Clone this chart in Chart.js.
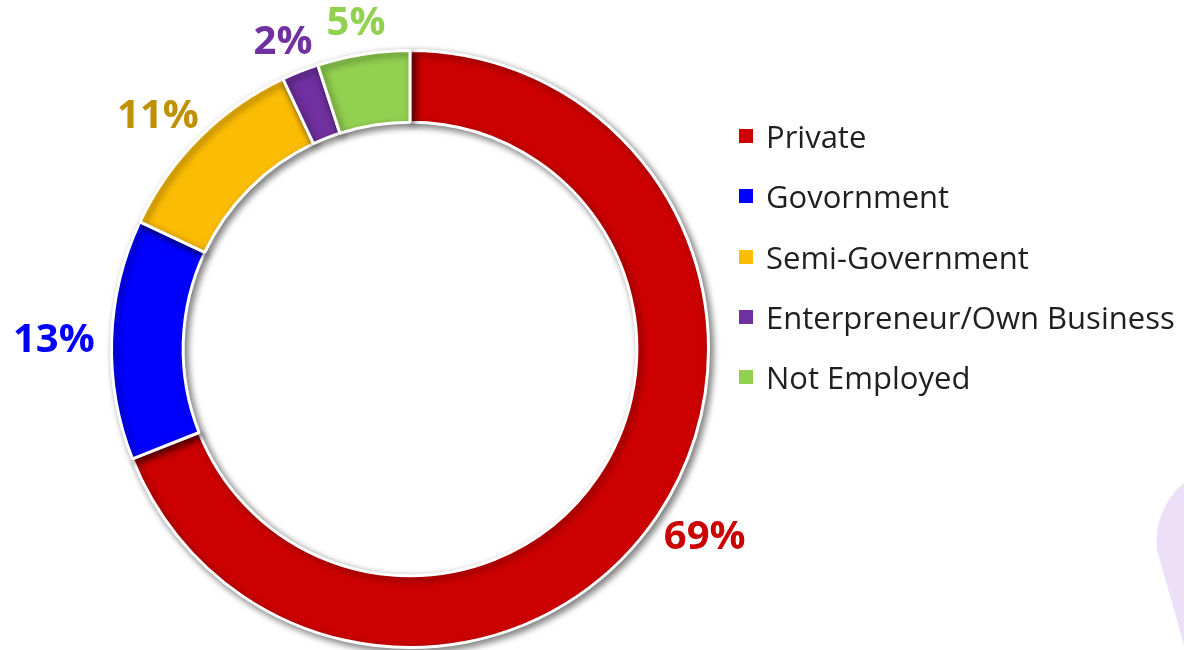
<!DOCTYPE html>
<html>
<head>
<meta charset="utf-8">
<title>Employment Status</title>
<script src="https://cdn.jsdelivr.net/npm/chart.js@4.4.1/dist/chart.umd.min.js"></script>
<style>
    html, body {
        margin: 0;
        padding: 0;
        background: #ffffff;
    }
    .wrap {
        position: relative;
        width: 1184px;
        height: 650px;
        overflow: hidden;
    }
    .wrap canvas {
        position: absolute;
        left: 0;
        top: 0;
    }
    .blob {
        position: absolute;
        left: 0;
        top: 0;
    }
    #legend {
        position: absolute;
        left: 739px;
        top: 106px;
        font-family: "Open Sans", sans-serif;
        font-size: 31px;
        color: #1f1f1f;
    }
    .legend-row {
        display: flex;
        align-items: center;
        height: 60.25px;
        white-space: nowrap;
    }
    .legend-box {
        width: 14px;
        height: 14px;
        margin-right: 13px;
        flex: none;
    }
</style>
</head>
<body>
<div class="wrap">
    <svg class="blob" width="1184" height="650">
        <path d="M1184 483 C1166 498 1154 522 1157 550 L1184 645 Z" fill="#eddff7"/>
    </svg>
    <canvas id="donut"></canvas>
    <div id="legend"></div>
</div>
<script>
const categories = ['Private', 'Govornment', 'Semi-Government', 'Enterpreneur/Own Business', 'Not Employed'];
const shares = [69, 13, 11, 2, 5];
const sliceColors = ['#cc0000', '#0000ff', '#fbbc04', '#7030a0', '#92d050'];
const labelColors = ['#cc0000', '#0000ff', '#bf9000', '#7030a0', '#92d050'];

// soft drop shadow under the ring
const ringShadow = {
    id: 'ringShadow',
    beforeDatasetsDraw(chart) {
        const ctx = chart.ctx;
        ctx.save();
        ctx.shadowColor = 'rgba(0, 0, 0, 0.5)';
        ctx.shadowBlur = 7;
        ctx.shadowOffsetX = 3;
        ctx.shadowOffsetY = 3;
    },
    afterDatasetsDraw(chart) {
        chart.ctx.restore();
    }
};

// percentage labels just outside each slice
const outsideLabels = {
    id: 'outsideLabels',
    afterDraw(chart) {
        const ctx = chart.ctx;
        const meta = chart.getDatasetMeta(0);
        const gap = 17;
        ctx.save();
        ctx.font = 'bold 40px "Open Sans", sans-serif';
        ctx.textAlign = 'center';
        ctx.textBaseline = 'middle';
        meta.data.forEach((arc, i) => {
            const p = arc.getProps(['x', 'y', 'startAngle', 'endAngle', 'outerRadius'], true);
            const mid = (p.startAngle + p.endAngle) / 2;
            const dx = Math.cos(mid);
            const dy = Math.sin(mid);
            const text = shares[i] + '%';
            const w = ctx.measureText(text).width;
            const h = 32;
            const r = p.outerRadius + gap;
            const cx = p.x + dx * r + dx * w / 2;
            const cy = p.y + dy * r + dy * h / 2;
            ctx.fillStyle = labelColors[i];
            ctx.fillText(text, cx, cy + 2);
        });
        ctx.restore();
    }
};

const legendEl = document.getElementById('legend');
categories.forEach((name, i) => {
    const row = document.createElement('div');
    row.className = 'legend-row';
    row.innerHTML = `<span class="legend-box" style="background:${sliceColors[i]}"></span><span>${name}</span>`;
    legendEl.appendChild(row);
});

const canvas = document.getElementById('donut');
canvas.width = 1184;
canvas.height = 650;

new Chart(canvas.getContext('2d'), {
    type: 'doughnut',
    data: {
        labels: categories,
        datasets: [{
            data: shares,
            backgroundColor: sliceColors,
            borderColor: '#ffffff',
            borderWidth: 3
        }]
    },
    options: {
        responsive: false,
        animation: false,
        cutout: '76%',
        layout: {
            padding: { left: 0, right: 364, top: 49, bottom: 1 }
        },
        plugins: {
            legend: { display: false },
            tooltip: { enabled: false }
        }
    },
    plugins: [ringShadow, outsideLabels]
});
</script>
</body>
</html>
